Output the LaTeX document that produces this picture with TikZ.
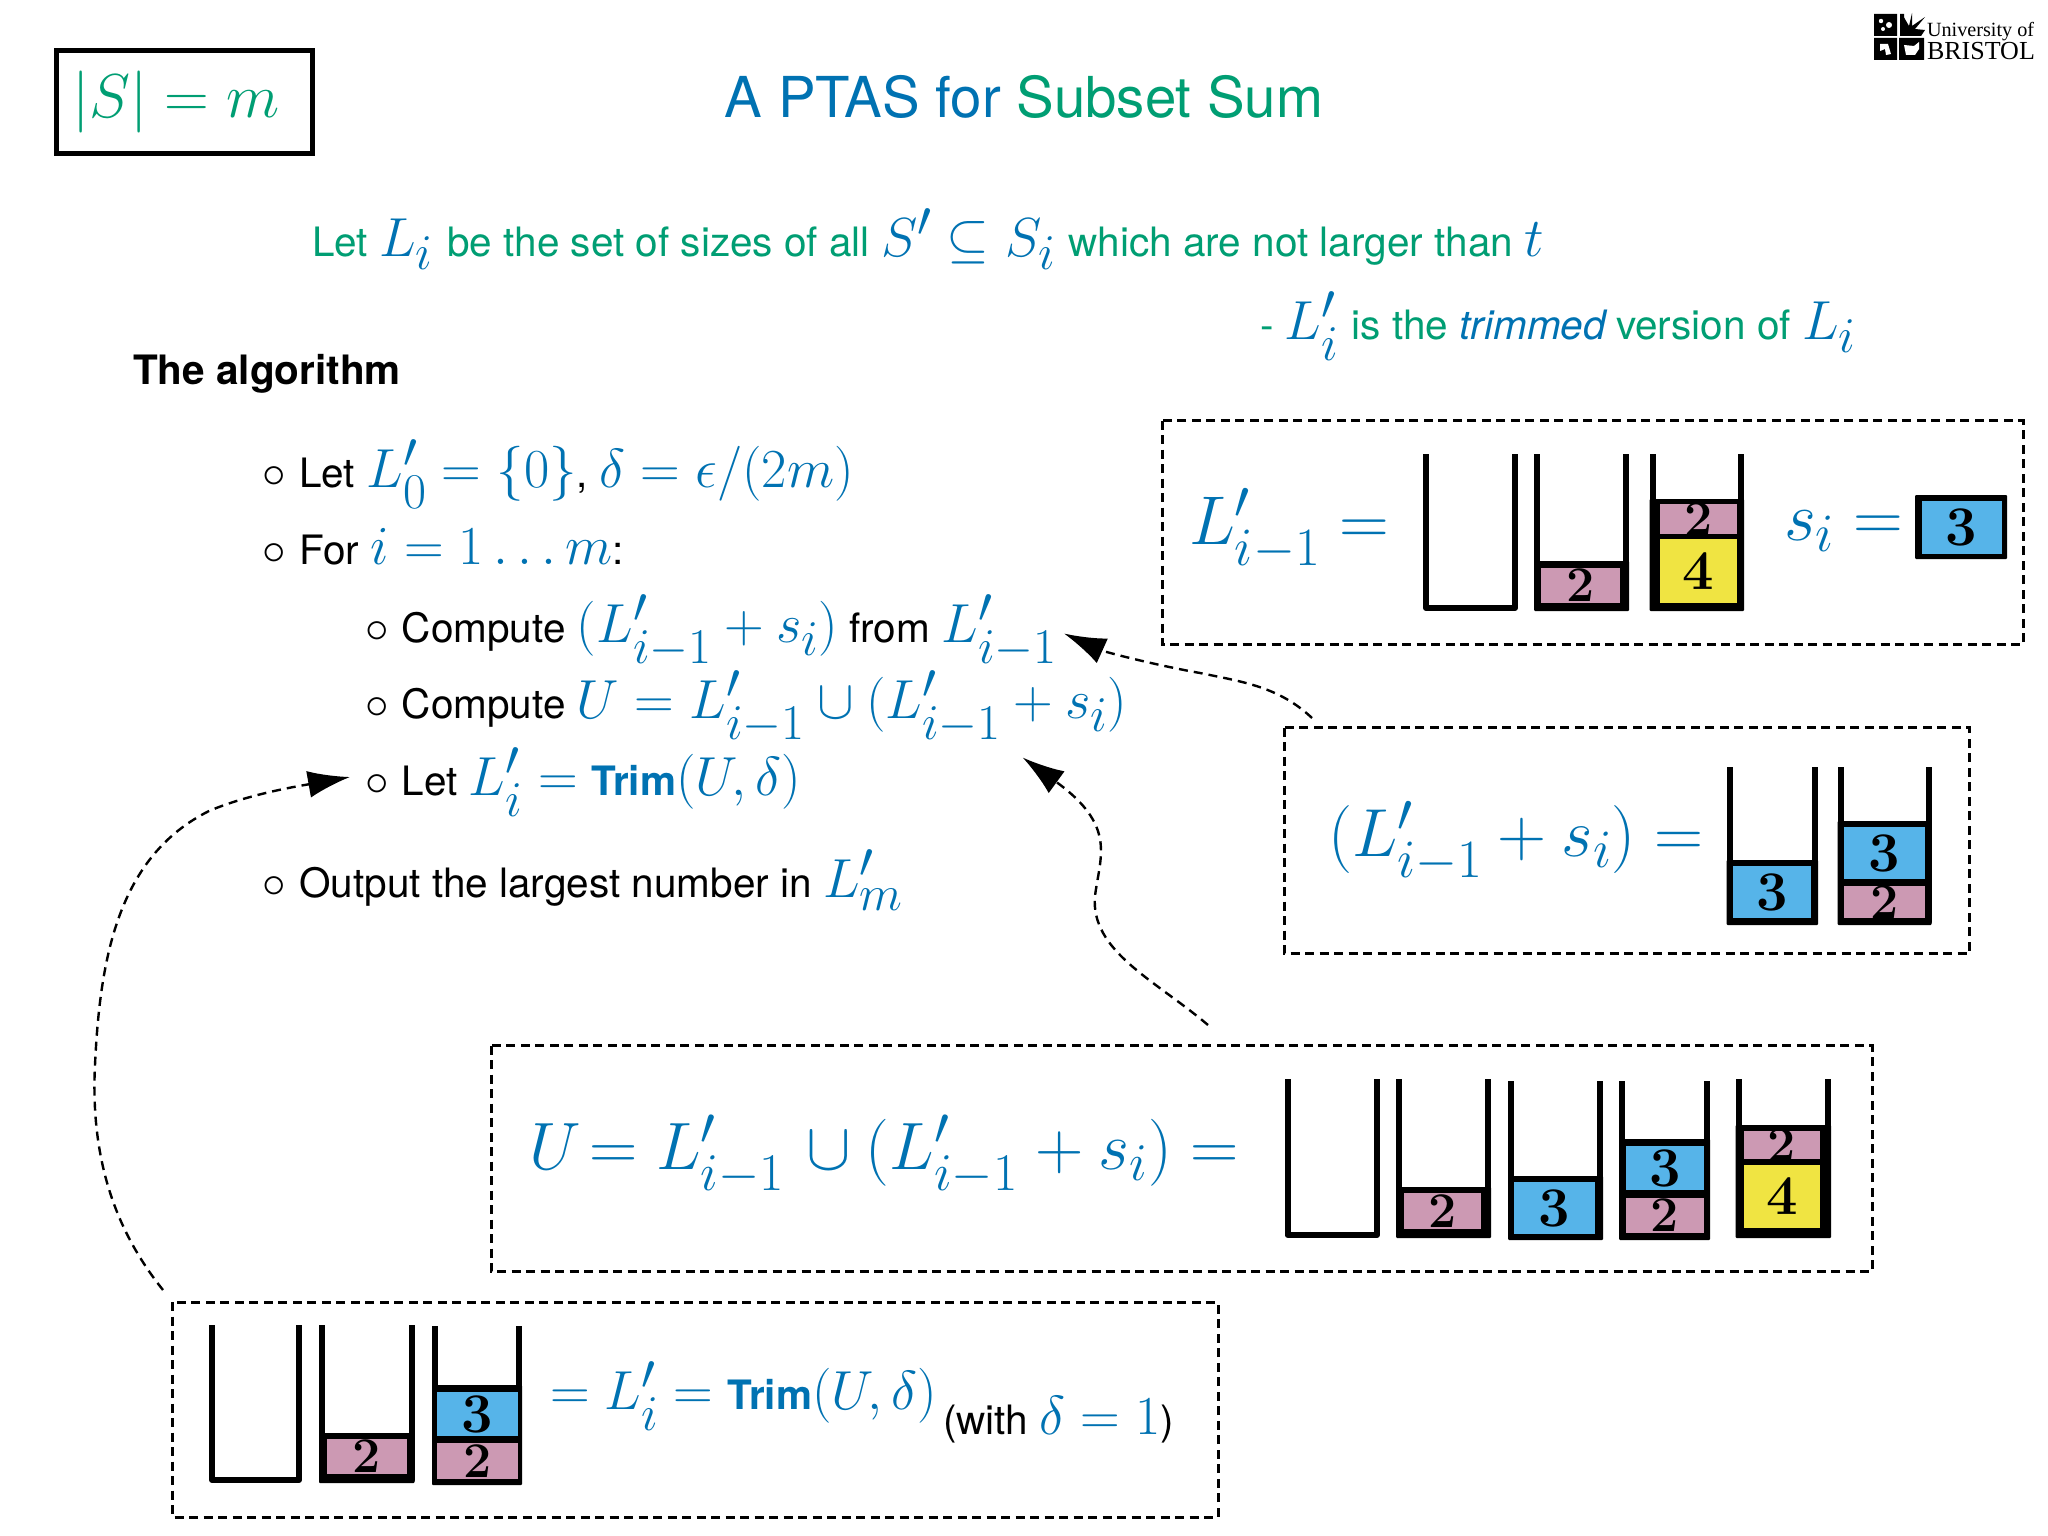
\documentclass[tikz,border=0pt]{standalone}
\usepackage{fix-cm}
\usepackage{amsmath,amssymb}
\usepackage{fontspec}
\setmainfont{TeX Gyre Heros}
\newfontfamily\logofont{Liberation Serif}
\newfontfamily\numfont{Latin Modern Roman}
\usetikzlibrary{arrows.meta,calc}
\definecolor{cblue}{HTML}{0072B2}
\definecolor{cgreen}{HTML}{009E73}
\definecolor{cpink}{HTML}{CC99B3}
\definecolor{csky}{HTML}{56B4E9}
\definecolor{cyel}{HTML}{F0E442}
\DeclareMathSizes{69}{69}{54}{40}
\DeclareMathSizes{68}{68}{54}{40}
\DeclareMathSizes{67}{67}{53}{39}
\DeclareMathSizes{55}{55}{50}{32}
\newcommand{\fs}[1]{\fontsize{#1}{#1}\selectfont}
\newcommand{\bl}[1]{{\color{cblue}\fs{55}$#1$}}
\newcommand{\LP}[1]{L'_{#1}}
\newcommand{\bul}{{\fs{47}$\circ$}\hspace{2pt}\space}
\newcommand{\bucket}[4]{\draw[bucketline] (#1+3,#3) -- (#1+3,#4-3) -- (#2-3,#4-3) -- (#2-3,#3);}
\newcommand{\mass}[4]{\fill[black,rounded corners=1] (#1,#3) rectangle (#2,#4);}
\newcommand{\itm}[7]{\fill[#5] (#1,#3) rectangle (#2,#4);
  \node[numlab,font=\numfont\bfseries\fs{#7}] at ({(#1+#2)/2},{(#3+#4)/2}) {#6};}
\tikzset{
  bucketline/.style={line width=6,line join=round},
  numlab/.style={inner sep=0,outer sep=0,text=black},
  panelbox/.style={draw,line width=3,dash pattern=on 9pt off 5.5pt},
  conn/.style={draw,line width=2.4,dash pattern=on 9pt off 6pt,-{Latex[length=42,width=27]}},
  tx/.style={inner sep=0,outer sep=0,anchor=base west},
  li/.style={tx,text=black,font=\fs{40.5}},
  bigm/.style={tx,text=cblue,font=\fs{69}}
}
\begin{document}
\begin{tikzpicture}[x=1pt,y=-1pt]
\useasboundingbox (0,0) rectangle (2048,1536);
\fill[white] (0,0) rectangle (2048,1536);
% header
\node[draw,line width=5,minimum width=256,minimum height=103,inner sep=0] (sizebox) at (184,102) {};
\node[inner sep=0,text=cgreen,font=\fs{62}] (sizetext) at (176,102) {$|S|=m$};
\node[inner sep=0,anchor=base,font=\fs{56.4}] (title) at (1024,118) {\textcolor{cblue}{A PTAS for }\textcolor{cgreen}{Subset Sum}};
% logo
\fill[black] (1874,14) rectangle (1897,36) (1874,38) rectangle (1897,60) (1899,38) rectangle (1924,60);
\fill[black] (1900,14) rectangle (1904,36) (1904,36) rectangle (1921,33);
\fill[black] (1904,33) -- (1902,14) -- (1909,26) -- (1912,13) -- (1912,26) -- (1925,17) -- (1915,29) -- (1925,30) -- (1921,36) -- cycle;
\fill[white] (1881,21) circle (2.2) (1889,25) circle (3) (1883,29) circle (2);
\fill[white] (1880,44) -- (1888,44) -- (1891,54) -- (1886,55) -- (1885,49) -- (1880,51) -- cycle;
\fill[white] (1904,45) -- (1914,46) -- (1919,42) -- (1919,49) -- (1915,55) -- (1906,55) -- cycle;
\node[tx,font=\logofont\fs{20.2}] (uni) at (1927,37) {University of};
\node[tx,font=\logofont\fs{26}] (bris) at (1927,60) {BRISTOL};
% definitions
\node[tx,text=cgreen,font=\fs{40.5}] (def1) at (312,256) {Let \bl{L_i}\hspace{3pt} be the set of sizes of all \bl{S'\subseteq S_i}\hspace{2pt} which are not larger than \bl{t}};
\node[tx,text=cgreen,font=\fs{40.5}] (def2) at (1260,339) {- \bl{\LP{i}}\hspace{2pt} is the \textcolor{cblue}{\textit{trimmed}}\hspace{-3pt} version of \bl{L_i}};
\node[tx,font=\fs{40.5}\bfseries] (alg) at (133,384) {The algorithm};
% list
\node[li] (a1) at (262.5,487) {\bul Let \bl{\LP{0}=\{0\}}, \bl{\delta=\epsilon/(2m)}};
\node[li] (a2) at (262.5,564) {\bul For \bl{i=1\ldots m}:};
\node[li] (a3) at (365,642) {\bul Compute \bl{(\LP{i-1}+s_i)} from \bl{\LP{i-1}}};
\node[li] (a4) at (365,718) {\bul Compute \bl{U=\LP{i-1}\cup(\LP{i-1}+s_i)}};
\node[li] (a5) at (365,795) {\bul Let \bl{\LP{i}=}\,\,\textcolor{cblue}{\textbf{Trim}}\bl{(U,\delta)}};
\node[li] (a6) at (262.5,897) {\bul Output the largest number in \bl{\LP{m}}};
% panels
\draw[panelbox] (1162,420.5) rectangle (2023,644.5);
\draw[panelbox] (1284,727.5) rectangle (1969.5,953);
\draw[panelbox] (491,1045.5) rectangle (1872,1271.5);
\draw[panelbox] (172,1302) rectangle (1218,1517);
\coordinate (p2top) at (1312,718);
\coordinate (p3top) at (1208,1025);
\coordinate (p4top) at (163,1290);
\coordinate (t3) at (1064,633.5);
\coordinate (t4) at (1022.6,757.5);
\coordinate (t5) at (350,777);
% panel 1
\node[bigm] (m1) at (1189,544) {$\LP{i-1}=$};
\bucket{1423}{1518}{454}{611}
\mass{1534}{1629}{561}{611}\bucket{1534}{1629}{454}{611}
\itm{1541}{1620}{567.5}{603}{cpink}{2}{50}
\mass{1649.5}{1744}{499}{611}\bucket{1649.5}{1744}{454}{611}
\itm{1660}{1736.5}{504}{534}{cpink}{2}{50}
\itm{1660}{1736.5}{539}{602.5}{cyel}{4}{56}
\node[bigm] (m2) at (1784,540) {$s_i=$};
\fill[black,rounded corners=1] (1915,495) rectangle (2007,559);
\itm{1921.5}{2001.5}{501}{553.5}{csky}{3}{56}
% panel 2
\node[bigm,font=\fs{68}] (m3) at (1328,856) {$(\LP{i-1}+s_i)=$};
\mass{1726.5}{1818}{860}{925}\bucket{1726.5}{1818}{767}{925}
\itm{1733}{1811}{866}{918}{csky}{3}{56}
\mass{1837.5}{1931.5}{821}{925}\bucket{1837.5}{1931.5}{767}{925}
\itm{1844}{1925}{827}{879}{csky}{3}{56}
\itm{1844}{1925}{886}{918}{cpink}{2}{50}
% panel 3
\node[bigm,font=\fs{67}] (m4) at (529,1169) {$U\hspace{-10pt}=\LP{i-1}\hspace{7pt}\cup(\LP{i-1}\hspace{3pt}+s_i)=$};
\bucket{1284.5}{1380}{1079}{1238}
\mass{1396}{1491}{1187}{1238}\bucket{1396}{1491}{1079}{1238}
\itm{1404}{1481}{1193}{1229}{cpink}{2}{50}
\mass{1508}{1603}{1176}{1240}\bucket{1508}{1603}{1081}{1240}
\itm{1514}{1595}{1182}{1234}{csky}{3}{56}
\mass{1619}{1710}{1139}{1240}\bucket{1619}{1710}{1081}{1240}
\itm{1626}{1704}{1146}{1190}{csky}{3}{56}
\itm{1626}{1704}{1198}{1233}{cpink}{2}{50}
\mass{1735.5}{1831}{1125}{1238}\bucket{1735.5}{1831}{1079}{1238}
\itm{1744}{1820}{1131}{1159}{cpink}{2}{50}
\itm{1744}{1820}{1165}{1228}{cyel}{4}{56}
% panel 4
\bucket{209}{302}{1325}{1483}
\mass{319}{414.5}{1433}{1483}\bucket{319}{414.5}{1325}{1483}
\itm{327}{407}{1439}{1474}{cpink}{2}{50}
\mass{432}{522}{1385}{1485}\bucket{432}{522}{1326}{1485}
\itm{437}{518}{1392}{1436}{csky}{3}{56}
\itm{437}{518}{1443}{1479}{cpink}{2}{50}
\node[tx,text=cblue,font=\fs{40.5}] (m5) at (550,1409) {\bl{=\LP{i}=}\,\,\textbf{Trim}\bl{(U,\delta)}};
\node[tx,text=black,font=\fs{40.5}] (m6) at (943,1434) {(with \bl{\delta=1})};
% connectors
\draw[conn] (p2top) .. controls (1279,687) and (1244,682) .. (1200,673) .. controls (1155,665) and (1105,652) .. (t3);
\draw[conn] (p3top) .. controls (1155,980) and (1090,951) .. (1095,896) .. controls (1100,856) and (1117,826) .. (t4);
\draw[conn] (p4top) .. controls (119,1235) and (90,1165) .. (95,1065) .. controls (100,956) and (119,856) .. (209,811) .. controls (249,794) and (299,786) .. (t5);
\end{tikzpicture}
\end{document}
